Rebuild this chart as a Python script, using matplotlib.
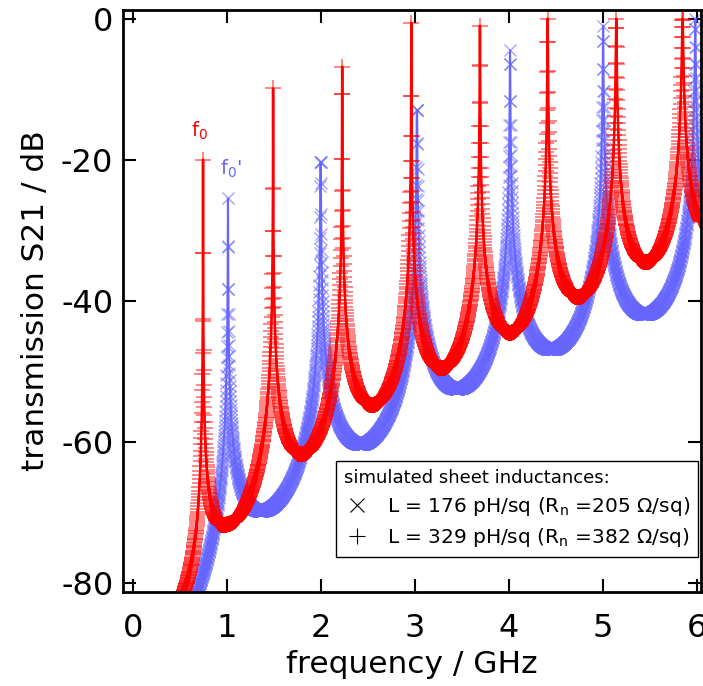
import numpy as np
import matplotlib
matplotlib.use("Agg")
import matplotlib.pyplot as plt
from matplotlib.lines import Line2D

# ---- data ----
# resonance frequencies (GHz) and displayed peak heights (dB)
red_res_f = [0.745, 1.49, 2.225, 2.96, 3.69, 4.41, 5.14, 5.845]
red_res_peak = [-20.0, -9.9, -6.8, -0.6, -1.0, 0.0, 0.0, 0.0]
blue_res_f = [1.01, 1.995, 3.02, 4.01, 5.00, 5.98]
blue_res_peak = [-25.5, -20.4, -13.0, -4.5, -1.0, 0.0]
# trough (between-resonance minimum) positions and levels (dB)
red_trough_f = [1.01, 1.78, 2.52, 3.28, 4.01, 4.73, 5.45]
red_trough_db = [-72.6, -62.3, -55.2, -49.8, -44.7, -39.7, -34.7]
blue_trough_f = [1.40, 2.47, 3.43, 4.46, 5.45]
blue_trough_db = [-70.2, -60.3, -52.8, -47.0, -42.0]
# low-frequency flank points (GHz, dB)
red_tail_f = [0.57, 0.69]
red_tail_db = [-80.0, -70.0]
blue_tail_f = [0.71, 0.89]
blue_tail_db = [-80.0, -70.0]

legend_title = "simulated sheet inductances:"
label_blue = "L = 176 pH/sq (R$_\\mathrm{n}$ =205 Ω/sq)"
label_red = "L = 329 pH/sq (R$_\\mathrm{n}$ =382 Ω/sq)"
x_ticks = [0, 1, 2, 3, 4, 5, 6]
y_ticks = [0, -20, -40, -60, -80]


def lin_extrap(x, xp, fp):
    x = np.asarray(x, float)
    xp = np.asarray(xp, float)
    fp = np.asarray(fp, float)
    y = np.interp(x, xp, fp)
    lo = x < xp[0]
    hi = x > xp[-1]
    s0 = (fp[1] - fp[0]) / (xp[1] - xp[0])
    s1 = (fp[-1] - fp[-2]) / (xp[-1] - xp[-2])
    y[lo] = fp[0] + s0 * (x[lo] - xp[0])
    y[hi] = fp[-1] + s1 * (x[hi] - xp[-1])
    return y


def spectrum(res_f, res_peak, tr_f, tr_db, tail_f, tail_db, step=0.002):
    f = np.concatenate([np.arange(0.40, 6.12, step), res_f])
    f = np.unique(np.round(f, 6))
    k = np.arange(len(res_f) + 1)
    th_f = [0.0] + list(res_f)
    theta = lin_extrap(f, th_f, k * np.pi)
    # convert tail points to equivalent finesse (as trough levels)
    th_t = lin_extrap(tail_f, th_f, k * np.pi)
    Ft = (10 ** (-np.asarray(tail_db) / 10.0) - 1) / np.sin(th_t) ** 2
    eq_db = -10 * np.log10(1 + Ft)
    all_f = np.concatenate([tail_f, tr_f])
    all_db = np.concatenate([eq_db, tr_db])
    tdb = lin_extrap(np.log10(f), np.log10(all_f), all_db)
    F = 10 ** (-tdb / 10.0) - 1.0
    y = -10 * np.log10(1 + F * np.sin(theta) ** 2)
    n = np.rint(theta / np.pi).astype(int)
    for i, pk in enumerate(res_peak):
        m = n == (i + 1)
        y[m] = np.minimum(y[m], pk)
    return f, y


fb, yb = spectrum(blue_res_f, blue_res_peak, blue_trough_f, blue_trough_db,
                  blue_tail_f, blue_tail_db)
fr, yr = spectrum(red_res_f, red_res_peak, red_trough_f, red_trough_db,
                  red_tail_f, red_tail_db)

plt.rcParams['font.family'] = ['DejaVu Sans']
plt.rcParams['axes.unicode_minus'] = False
fig = plt.figure(figsize=(7.03, 6.86), dpi=100)
ax = fig.add_axes([0.175, 0.1375, 0.822, 0.848])

blue = (0.4, 0.4, 1.0)
red = (1.0, 0.0, 0.0)
ax.plot(fb, yb, color=blue, lw=1.5, marker='x', ms=9.0, mew=1.0,
        mec=(0.4, 0.4, 1.0, 0.6))
ax.plot(fr, yr, color=red, lw=1.8, marker='+', ms=11, mew=1.1,
        mec=(1.0, 0.0, 0.0, 0.6))

ax.text(0.71, -15.9, "f$_0$", color=red, fontsize=14, ha='center', va='center')
ax.text(1.04, -21.3, "f$_0$'", color=blue, fontsize=14, ha='center', va='center')

ax.set_xlim(-0.106, 6.04)
ax.set_ylim(-81.3, 1.23)
ax.set_xticks(x_ticks)
ax.set_yticks(y_ticks)
ax.tick_params(direction='in', length=9.5, width=1.5, labelsize=23,
               top=True, right=True)
ax.tick_params(axis='x', pad=15.5)
ax.tick_params(axis='y', pad=7)
for s in ax.spines.values():
    s.set_linewidth(2.0)
ax.set_xlabel("frequency / GHz", fontsize=22.5, labelpad=4)
ax.set_ylabel("transmission S21 / dB", fontsize=22.5, labelpad=8)

handles = [Line2D([], [], ls='none', marker='x', color='black', ms=10, mew=0.8),
           Line2D([], [], ls='none', marker='+', color='black', ms=12, mew=0.8)]
leg = ax.legend(handles, [label_blue, label_red], title=legend_title,
                loc='lower right', bbox_to_anchor=(0.995, 0.06),
                fontsize=14.5, title_fontsize=13, frameon=True,
                fancybox=False, edgecolor='black', framealpha=1,
                alignment='left', handlelength=1.2, handletextpad=0.9,
                borderpad=0.4, labelspacing=0.4, borderaxespad=0.0)
leg.get_frame().set_linewidth(1.0)

fig.savefig("out.png", dpi=100)
